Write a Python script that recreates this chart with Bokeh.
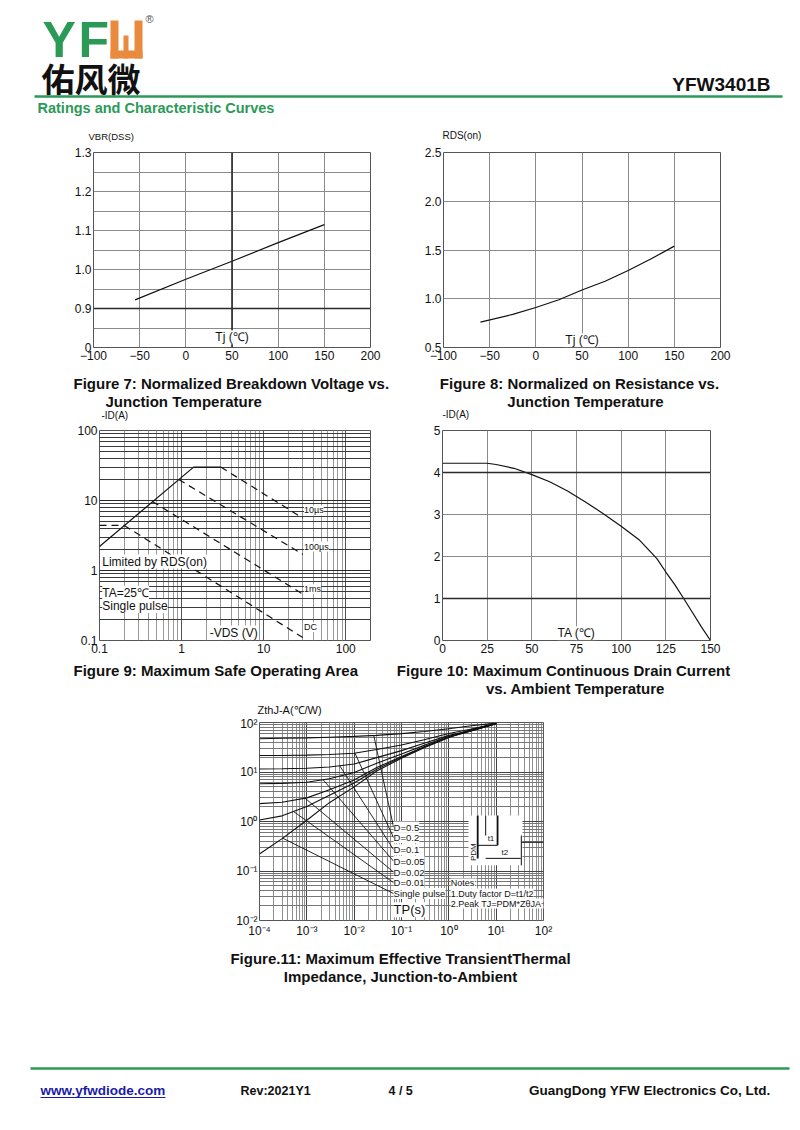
import math
from bokeh.plotting import figure
from bokeh.models import Range1d, FixedTicker, Label, Span, BoxAnnotation, Spacer
from bokeh.layouts import column, row
from bokeh.embed import file_html
from bokeh.resources import INLINE
from bokeh.core.properties import value

FONT = "Liberation Sans"
CJK = "Noto Sans CJK SC"
GREEN = "#2b9a57"
ORANGE = "#ea8a3e"
GRID = "#8a8a8a"
DARK = "#2a2a2a"
INK = "#111111"

# ---------------- data ----------------
# Figure 7
f7_tj = [-55, 0, 50, 100, 150]
f7_vbr = [0.922, 0.975, 1.021, 1.069, 1.115]
f7_xticks = [-100, -50, 0, 50, 100, 150, 200]
f7_yticks = [0.8, 0.9, 1.0, 1.1, 1.2, 1.3]
f7_ylabels = ["0", "0.9", "1.0", "1.1", "1.2", "1.3"]
f7_yminor = [0.85, 0.95, 1.05, 1.15, 1.25]

# Figure 8
f8_tj = [-60, -25, 0, 25, 50, 75, 100, 125, 150]
f8_rds = [0.76, 0.84, 0.91, 0.99, 1.09, 1.18, 1.29, 1.41, 1.54]
f8_xticks = [-100, -50, 0, 50, 100, 150, 200]
f8_yticks = [0.5, 1.0, 1.5, 2.0, 2.5]
f8_ylabels = ["0.5", "1.0", "1.5", "2.0", "2.5"]

# Figure 9 (SOA)
f9_rds_v = [0.1, 1.4, 3.0]
f9_rds_i = [2.2, 30, 30]
f9_10us_v = [3.0, 30]
f9_10us_i = [30, 5.6]
f9_100us_v = [0.92, 30]
f9_100us_i = [20, 1.7]
f9_1ms_v = [0.44, 30]
f9_1ms_i = [9.7, 0.46]
f9_dch_v = [0.1, 0.2]
f9_dch_i = [4.4, 4.4]
f9_dc_v = [0.2, 30]
f9_dc_i = [4.4, 0.11]
f9_ticks = [0.1, 1, 10, 100]
f9_ticklabels = ["0.1", "1", "10", "100"]

# Figure 10
f10_ta = [0, 25, 30, 40, 50, 60, 70, 80, 90, 100, 110, 120, 125, 130, 135, 140, 145, 150]
f10_id = [4.22, 4.22, 4.19, 4.1, 3.95, 3.78, 3.56, 3.3, 3.02, 2.72, 2.4, 1.95,
          1.63, 1.33, 1.0, 0.66, 0.32, 0.0]
f10_xticks = [0, 25, 50, 75, 100, 125, 150]
f10_yticks = [0, 1, 2, 3, 4, 5]

# Figure 11 (transient thermal impedance)
f11_t = [1e-4, 3e-4, 1e-3, 3e-3, 1e-2, 3e-2, 1e-1, 3e-1, 1, 3, 10]
f11_d05 = [47, 48, 49, 50.5, 52.5, 55, 59.5, 66, 75, 86, 97]
f11_d02 = [21.5, 21.6, 21.9, 22.6, 24, 28.4, 35, 45, 60, 74, 96]
f11_d01 = [11.5, 11.6, 11.9, 12.6, 14.5, 19.5, 27, 38, 55, 70, 95]
f11_d005 = [5.8, 5.9, 6.2, 7.3, 9.8, 15, 23, 34.5, 52.5, 69, 95]
f11_d002 = [2.3, 2.45, 3.0, 4.4, 6.9, 12.3, 20.6, 32.4, 51, 68, 95]
f11_d001 = [1.07, 1.3, 2.0, 3.4, 6.0, 11.4, 19.8, 31.7, 50.5, 67.5, 95]
f11_single = [0.22, 0.45, 1.06, 2.4, 5.0, 10.5, 19, 31, 50, 72, 95]
f11_names = ["D=0.5", "D=0.2", "D=0.1", "D=0.05", "D=0.02", "D=0.01", "Single pulse"]
f11_knee_t = [0.026, 0.0104, 0.005, 0.0022, 0.0009, 0.00052, 0.00031]
f11_knee_z = [54, 24, 13.2, 7.0, 3.0, 1.6, 0.46]
f11_label_t = 0.068
f11_label_z = [0.77, 0.47, 0.27, 0.158, 0.095, 0.058, 0.035]
f11_ticks = [1e-4, 1e-3, 1e-2, 1e-1, 1, 10, 100]
f11_ticklabels = ["10⁻⁴", "10⁻³", "10⁻²", "10⁻¹", "10⁰", "10¹", "10²"]
f11_yticks = [1e-2, 1e-1, 1, 10, 100]
f11_yticklabels = ["10⁻²", "10⁻¹", "10⁰", "10¹", "10²"]


# ---------------- helpers ----------------
def chart(w, h, xr, yr, borders, xtype="linear", ytype="linear"):
    l, r, t, b = borders
    p = figure(width=w, height=h, x_range=Range1d(*xr), y_range=Range1d(*yr),
               x_axis_type=xtype, y_axis_type=ytype, output_backend="svg",
               toolbar_location=None, min_border_left=l, min_border_right=r,
               min_border_top=t, min_border_bottom=b)
    p.outline_line_color = "#555555"
    p.outline_line_width = 1
    for ax in p.axis:
        ax.axis_line_color = None
        ax.major_tick_line_color = None
        ax.minor_tick_line_color = None
        ax.major_tick_out = 0
        ax.major_tick_in = 0
        ax.minor_tick_out = 0
        ax.minor_tick_in = 0
        ax.major_label_text_font = FONT
        ax.major_label_text_font_size = "12px"
        ax.major_label_text_color = INK
    p.xaxis.major_label_standoff = 3
    p.yaxis.major_label_standoff = 2
    p.grid.grid_line_color = GRID
    p.grid.grid_line_width = 1
    return p


def set_ticks(p, dim, ticks, minor=None, labels=None):
    tk = FixedTicker(ticks=ticks, minor_ticks=minor or [])
    ax = p.xaxis if dim == "x" else p.yaxis
    gr = p.xgrid if dim == "x" else p.ygrid
    ax.ticker = tk
    gr.ticker = tk
    if labels is not None:
        ax.major_label_overrides = {t: s for t, s in zip(ticks, labels)}


def lab(p, x, y, s, size="12px", align="left", baseline="middle", bg="white",
        bold=False, angle=0):
    p.add_layout(Label(x=x, y=y, text=s, text_font=FONT, text_font_size=size,
                       text_color=INK, text_align=align, text_baseline=baseline,
                       background_fill_color=bg, angle=angle,
                       text_font_style="bold" if bold else "normal"))


def canvas(w, h, y0, y1):
    p = figure(width=w, height=h, x_range=Range1d(0, w), y_range=Range1d(y1, y0),
               output_backend="svg", toolbar_location=None,
               x_axis_location=None, y_axis_location=None, min_border=0)
    p.grid.visible = False
    p.outline_line_color = None
    return p


def txt(p, x, y, s, size, color=INK, bold=True, align="left", font=FONT):
    # y is the visual centre of the text line
    p.text(x=[x], y=[y], text=[s], text_font=value(font), text_font_size=value(size),
           text_color=color, text_font_style="bold" if bold else "normal",
           text_align=align, text_baseline="middle")


W = 800

# ---------------- header (plus axis titles of row A) ----------------
hdr = canvas(W, 143, 0, 143)
txt(hdr, 42, 39, "Y", "50px", color=GREEN)
txt(hdr, 78, 39, "F", "50px", color=GREEN)
hdr.quad(left=[110, 134, 110, 123], right=[118, 142, 142, 128],
         top=[20, 20, 50, 35], bottom=[58, 58, 58, 58],
         fill_color=ORANGE, line_color=None)
txt(hdr, 145, 18, "®", "11px", color="#555555", bold=False)
txt(hdr, 41, 77, "佑风微", "33px", color=INK, bold=True, font=CJK)
txt(hdr, 770, 84, "YFW3401B", "19px", align="right")
hdr.segment(x0=[34], y0=[96], x1=[782], y1=[96], line_color=GREEN, line_width=2.5)
txt(hdr, 37, 107, "Ratings and Characteristic Curves", "14.5px", color=GREEN)
txt(hdr, 88, 136, "VBR(DSS)", "9.5px", bold=False)
txt(hdr, 442, 135, "RDS(on)", "10px", bold=False)

# ---------------- figure 7 ----------------
p7 = chart(400, 227, (-100, 200), (0.8, 1.3), (93, 30, 9, 22))
set_ticks(p7, "x", f7_xticks)
set_ticks(p7, "y", f7_yticks, f7_yminor, f7_ylabels)
p7.ygrid.minor_grid_line_color = GRID
p7.add_layout(Span(location=50, dimension="height", line_color=DARK, line_width=1.6))
p7.add_layout(Span(location=0.9, dimension="width", line_color=DARK, line_width=1.6))
p7.line(f7_tj, f7_vbr, line_color=INK, line_width=1.2)
lab(p7, 50, 0.826, "Tj (℃)", align="center")

# ---------------- figure 8 ----------------
p8 = chart(400, 227, (-100, 200), (0.5, 2.5), (43, 80, 5, 23))
set_ticks(p8, "x", f8_xticks)
set_ticks(p8, "y", f8_yticks, None, f8_ylabels)
p8.line(f8_tj, f8_rds, line_color=INK, line_width=1.2)
lab(p8, 50, 0.575, "Tj (℃)", align="center")

# ---------------- caption row A (plus axis titles of row B) ----------------
capA = canvas(W, 51, 370, 421)
txt(capA, 73, 383, "Figure 7: Normalized Breakdown Voltage vs.", "15px")
txt(capA, 105, 401, "Junction Temperature", "15px")
txt(capA, 579, 383, "Figure 8: Normalized on Resistance vs.", "15px", align="center")
txt(capA, 585, 401, "Junction Temperature", "15px", align="center")
txt(capA, 101, 415, "-ID(A)", "10px", bold=False)
txt(capA, 442, 414, "-ID(A)", "10px", bold=False)

# ---------------- figure 9 ----------------
p9 = chart(400, 239, (0.1, 200), (0.1, 100), (99, 30, 4, 20), "log", "log")
minor9 = [m * 10.0 ** e for e in range(-1, 3) for m in range(2, 10)]
set_ticks(p9, "x", f9_ticks, minor9, f9_ticklabels)
set_ticks(p9, "y", f9_ticks, minor9, f9_ticklabels)
p9.xgrid.grid_line_color = "#555555"
p9.xgrid.minor_grid_line_color = "#9a9a9a"
p9.ygrid.grid_line_color = DARK
p9.ygrid.minor_grid_line_color = "#3a3a3a"
p9.ygrid.minor_grid_line_width = 1.2
p9.line(f9_rds_v, f9_rds_i, line_color=INK, line_width=1.2)
for vv, ii in [(f9_10us_v, f9_10us_i), (f9_100us_v, f9_100us_i),
               (f9_1ms_v, f9_1ms_i), (f9_dch_v, f9_dch_i), (f9_dc_v, f9_dc_i)]:
    p9.line(vv, ii, line_color=INK, line_width=1.2, line_dash="7 5")
lab(p9, 31, 7.2, "10µs", size="9px")
lab(p9, 31, 2.2, "100µs", size="9px")
lab(p9, 31, 0.54, "1ms", size="9px")
lab(p9, 31, 0.155, "DC", size="9px")
lab(p9, 0.108, 1.34, "Limited by RDS(on)", size="12px")
lab(p9, 0.108, 0.48, "TA=25℃", size="12px")
lab(p9, 0.108, 0.31, "Single pulse", size="12px")
lab(p9, 2.2, 0.13, "-VDS (V)", size="12px")

# ---------------- figure 10 ----------------
p10 = chart(400, 239, (0, 150), (0, 5), (42, 90, 9, 20))
set_ticks(p10, "x", f10_xticks)
set_ticks(p10, "y", f10_yticks)
for loc in (1, 4):
    p10.add_layout(Span(location=loc, dimension="width", line_color=DARK, line_width=1.6))
p10.line(f10_ta, f10_id, line_color=INK, line_width=1.2)
lab(p10, 75, 0.17, "TA (℃)", align="center")

# ---------------- caption row B (plus axis title of figure 11) ----------------
capB = canvas(W, 56, 660, 716)
txt(capB, 73, 670, "Figure 9: Maximum Safe Operating Area", "15px")
txt(capB, 563, 670, "Figure 10: Maximum Continuous Drain Current", "15px", align="center")
txt(capB, 575, 688, "vs. Ambient Temperature", "15px", align="center")
txt(capB, 257, 709, "ZthJ-A(℃/W)", "11px", bold=False)

# ---------------- figure 11 ----------------
p11 = chart(400, 226, (1e-4, 100), (1e-2, 100), (59, 57, 6, 22), "log", "log")
minor11 = [m * 10.0 ** e for e in range(-4, 2) for m in range(2, 10)]
minor11y = [m * 10.0 ** e for e in range(-2, 2) for m in range(2, 10)]
set_ticks(p11, "x", f11_ticks, minor11, f11_ticklabels)
set_ticks(p11, "y", f11_yticks, minor11y, f11_yticklabels)
p11.grid.grid_line_color = "#444444"
p11.xgrid.minor_grid_line_color = "#8f8f8f"
p11.ygrid.minor_grid_line_color = "#777777"
for z in (f11_d05, f11_d02, f11_d01, f11_d005, f11_d002, f11_d001, f11_single):
    p11.line(f11_t, z, line_color=INK, line_width=1.1)
p11.segment(x0=f11_knee_t, y0=f11_knee_z, x1=[f11_label_t] * len(f11_knee_t),
            y1=f11_label_z, line_color=INK, line_width=0.9)
for name, z in zip(f11_names, f11_label_z):
    lab(p11, f11_label_t, z, name, size="9.5px")
lab(p11, f11_label_t, 0.0165, "TP(s)", size="13px")
lab(p11, 1.1, 0.056, "Notes:", size="9px")
lab(p11, 1.1, 0.035, "1.Duty factor D=t1/t2", size="9px")
lab(p11, 1.1, 0.022, "2.Peak TJ=PDM*ZθJA+TA", size="9px")
# pulse diagram inset
p11.add_layout(BoxAnnotation(left=2.6, right=36, bottom=0.13, top=1.32,
                             fill_color="white", fill_alpha=1, line_color=None,
                             level="underlay"))
p11.segment(x0=[4.07, 10.7], y0=[0.178, 0.33], x1=[4.07, 10.7], y1=[1.32, 1.32],
            line_color=INK, line_width=1.8)
p11.segment(x0=[6.0, 34, 34, 4.07, 6.0], y0=[0.52, 0.13, 0.38, 0.33, 0.18],
            x1=[6.0, 34, 100, 10.7, 33], y1=[1.32, 0.52, 0.38, 0.33, 0.18],
            line_color=INK, line_width=1.0)
lab(p11, 6.6, 0.46, "t1", size="8px", bg=None)
lab(p11, 13, 0.24, "t2", size="8px", bg=None)
lab(p11, 3.3, 0.24, "PDM", size="8px", bg=None, angle=math.pi / 2, align="center")

rowC = row(Spacer(width=200, height=226), p11, Spacer(width=200, height=226))

# ---------------- bottom (caption 11 + footer) ----------------
bot = canvas(W, 188, 942, 1130)
txt(bot, 400, 958, "Figure.11: Maximum Effective TransientThermal", "15px", align="center")
txt(bot, 400, 976, "Impedance, Junction-to-Ambient", "15px", align="center")
bot.segment(x0=[30], y0=[1068], x1=[789], y1=[1068], line_color=GREEN, line_width=2.5)
txt(bot, 40, 1090, "www.yfwdiode.com", "13.5px", color="#1a1aa8")
bot.segment(x0=[40], y0=[1097], x1=[165], y1=[1097], line_color="#1a1aa8", line_width=1)
txt(bot, 240, 1090, "Rev:2021Y1", "12.5px")
txt(bot, 388, 1090, "4 / 5", "12.5px")
txt(bot, 770, 1090, "GuangDong YFW Electronics Co, Ltd.", "13.5px", align="right")

page = column(hdr, row(p7, p8), capA, row(p9, p10), capB, rowC, bot)

open("out.html", "w").write(file_html(page, INLINE))
